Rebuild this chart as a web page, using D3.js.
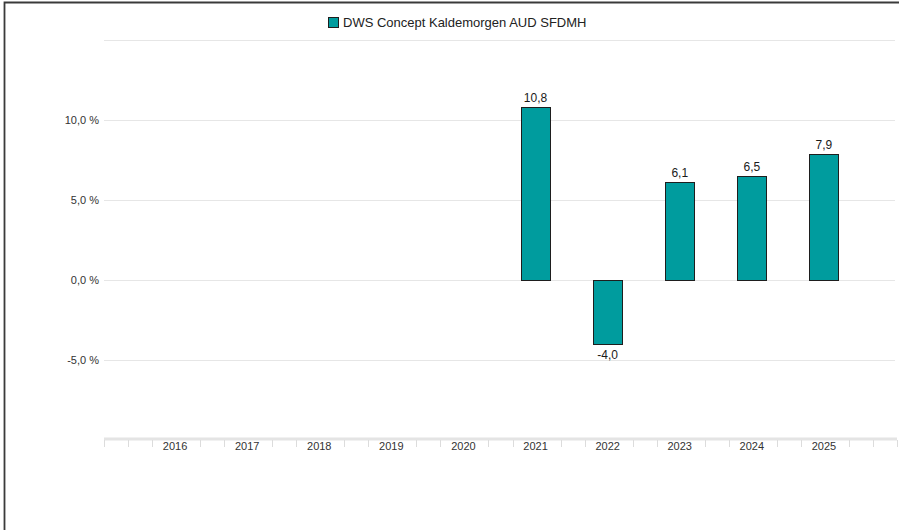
<!DOCTYPE html>
<html>
<head>
<meta charset="utf-8">
<script src="https://cdn.jsdelivr.net/npm/d3@7"></script>
<style>
  body { margin: 0; background: #fff; }
  svg { display: block; font-family: "Liberation Sans", Arial, sans-serif; }
</style>
</head>
<body>
<div id="chart"></div>
<script>
// data
var years = ["2016", "2017", "2018", "2019", "2020", "2021", "2022", "2023", "2024", "2025"];
var values = [null, null, null, null, null, 10.8, -4.0, 6.1, 6.5, 7.9];
var yTicks = [-5, 0, 5, 10];
var gridValues = [-5, 0, 5, 10, 15];
var seriesName = "DWS Concept Kaldemorgen AUD SFDMH";

var svgWidth = 899;
var svgHeight = 530;
var margin = { top: 40, right: 2, bottom: 90, left: 104 };
var chart_width = svgWidth - margin.left - margin.right;
var chart_height = svgHeight - margin.top - margin.bottom;

var teal = "#009c9e";

// comma decimal, plain hyphen for negatives
function fmt(v) {
    return (v < 0 ? "-" : "") + Math.abs(v).toFixed(1).replace(".", ",");
}

var svg = d3.select("#chart")
    .append("svg")
    .attr("width", svgWidth)
    .attr("height", svgHeight);

// frame (top and left edges visible)
svg.append("path")
    .attr("d", "M4.5,530 L4.5,2.5 L899,2.5")
    .attr("fill", "none")
    .attr("stroke", "#3a3a3a")
    .attr("stroke-width", 1.8);

var chartGroup = svg.append("g")
    .attr("transform", `translate(${margin.left}, ${margin.top})`);

var xScale = d3.scaleBand()
    .domain(years)
    .range([0, chart_width])
    .paddingInner(0)
    .paddingOuter(0.5);

var yScale = d3.scaleLinear()
    .domain([-10, 15])
    .range([chart_height, 0]);

// grid lines
chartGroup.selectAll(".grid")
    .data(gridValues)
    .enter()
    .append("line")
    .attr("x1", 0)
    .attr("x2", chart_width - 2)
    .attr("y1", d => Math.round(yScale(d)) + 0.5)
    .attr("y2", d => Math.round(yScale(d)) + 0.5)
    .attr("stroke", "#e6e6e6")
    .attr("stroke-width", 1.2);

// y labels
chartGroup.selectAll(".ylab")
    .data(yTicks)
    .enter()
    .append("text")
    .attr("x", -5)
    .attr("y", d => yScale(d))
    .attr("dy", "0.35em")
    .attr("text-anchor", "end")
    .attr("font-size", 11)
    .attr("fill", "#333")
    .text(d => fmt(d) + " %");

// x axis band
chartGroup.append("line")
    .attr("x1", 0)
    .attr("x2", chart_width)
    .attr("y1", chart_height - 1)
    .attr("y2", chart_height - 1)
    .attr("stroke", "#e4e4e4")
    .attr("stroke-width", 3);

// minor ticks every third of a band, skipping the ones under labels
var step = xScale.step();
var tickPos = d3.range(0, Math.round(chart_width / (step / 3)) + 1)
    .filter(i => (i - 3) % 3 !== 0 || i < 3 || i > 3 + 3 * (years.length - 1))
    .map(i => i * step / 3);
chartGroup.selectAll(".xtick")
    .data(tickPos)
    .enter()
    .append("line")
    .attr("x1", d => Math.round(d) + 0.5)
    .attr("x2", d => Math.round(d) + 0.5)
    .attr("y1", chart_height)
    .attr("y2", chart_height + 7)
    .attr("stroke", "#dcdcdc")
    .attr("stroke-width", 1);

// x labels
chartGroup.selectAll(".xlab")
    .data(years)
    .enter()
    .append("text")
    .attr("x", d => xScale(d) + xScale.bandwidth() / 2 - 1)
    .attr("y", chart_height + 10)
    .attr("text-anchor", "middle")
    .attr("font-size", 11)
    .attr("fill", "#333")
    .text(d => d);

// bars
var barW = 29;
var rows = years.map((y, i) => ({ year: y, value: values[i] })).filter(d => d.value !== null);

chartGroup.selectAll(".bar")
    .data(rows)
    .enter()
    .append("rect")
    .attr("x", d => Math.floor(xScale(d.year) + xScale.bandwidth() / 2 - barW / 2) - 0.5)
    .attr("y", d => Math.round(yScale(Math.max(0, d.value))) + 0.5)
    .attr("width", barW)
    .attr("height", d => Math.abs(Math.round(yScale(d.value)) - Math.round(yScale(0))))
    .attr("fill", teal)
    .attr("stroke", "#1e1e1e")
    .attr("stroke-width", 1);

// value labels
chartGroup.selectAll(".vlab")
    .data(rows)
    .enter()
    .append("text")
    .attr("x", d => xScale(d.year) + xScale.bandwidth() / 2 - 1)
    .attr("y", d => d.value >= 0 ? yScale(d.value) - 5 : yScale(d.value) + 15)
    .attr("text-anchor", "middle")
    .attr("font-size", 12)
    .attr("fill", "#1a1a1a")
    .text(d => fmt(d.value));

// legend
var legend = svg.append("g")
    .attr("transform", "translate(328, 17)");
legend.append("rect")
    .attr("x", 0.5)
    .attr("y", 0.5)
    .attr("width", 10)
    .attr("height", 10)
    .attr("fill", teal)
    .attr("stroke", "#1e1e1e")
    .attr("stroke-width", 1);
legend.append("text")
    .attr("x", 15)
    .attr("y", 10)
    .attr("font-size", 13)
    .attr("fill", "#222")
    .text(seriesName);
</script>
</body>
</html>
